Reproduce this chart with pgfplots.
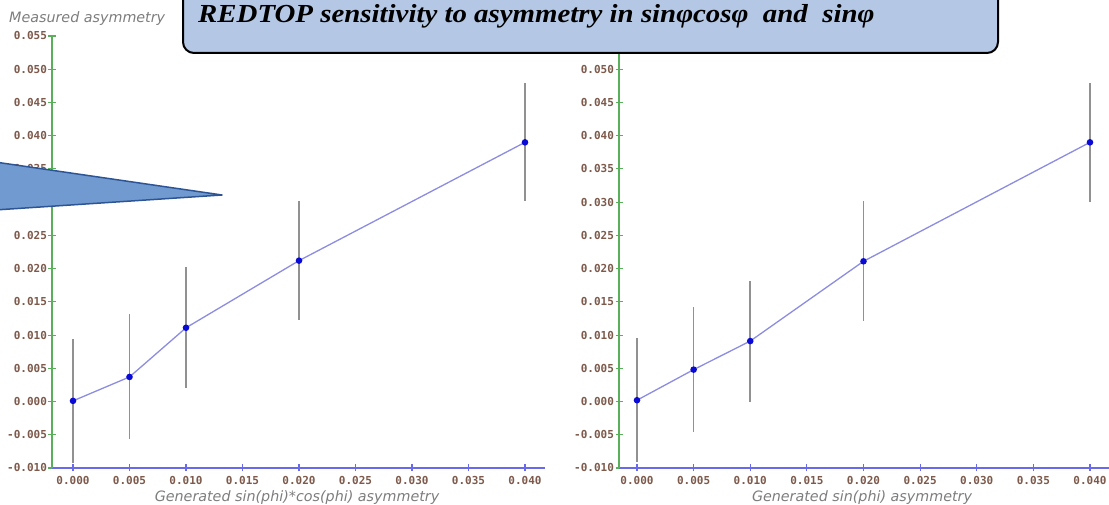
\documentclass[border=0pt]{standalone}
\usepackage{fontspec}
\setmainfont{DejaVu Sans}
\newfontfamily\tickfont{DejaVu Sans Mono}
\newfontfamily\labfont{DejaVu Sans}
\newfontfamily\titlefont{Liberation Serif}
\usepackage{pgfplots}
\pgfplotsset{compat=1.18}
\definecolor{ygreen}{RGB}{90,175,90}
\definecolor{xblue}{RGB}{105,105,235}
\definecolor{tickbrown}{RGB}{125,90,75}
\definecolor{linec}{RGB}{140,140,225}
\definecolor{markblue}{RGB}{10,10,215}
\definecolor{labgray}{RGB}{125,125,125}
\definecolor{errgray}{RGB}{145,145,145}
\definecolor{boxfill}{RGB}{180,199,228}
\definecolor{trifill}{RGB}{112,154,208}
\definecolor{tridraw}{RGB}{45,85,150}
\pgfplotsset{
  myax/.style={
    scale only axis,
    anchor=south west,
    ymin=-0.010, ymax=0.055,
    scaled ticks=false,
    axis x line*=bottom, axis y line*=left,
    x axis line style={draw=xblue, line width=1.1pt, -},
    y axis line style={draw=ygreen, line width=1.1pt, -},
    x tick style={draw=xblue, line width=1.1pt},
    y tick style={draw=ygreen, line width=1.1pt},
    tick align=center,
    major tick length=7pt,
    xtick={0,0.005,0.010,0.015,0.020,0.025,0.030,0.035,0.040},
    xticklabels={0.000,0.005,0.010,0.015,0.020,0.025,0.030,0.035,0.040},
    ytick={-0.010,-0.005,0,0.005,0.010,0.015,0.020,0.025,0.030,0.035,0.040,0.045,0.050,0.055},
    yticklabels={-0.010,-0.005,0.000,0.005,0.010,0.015,0.020,0.025,0.030,0.035,0.040,0.045,0.050,0.055},
    tick label style={font=\tickfont\bfseries\fontsize{11}{12}\selectfont, text=tickbrown},
    xticklabel style={yshift=-1pt},
    yticklabel style={xshift=2pt},
    clip=false,
  },
  mydata/.style={
    color=linec, line width=1.3pt, mark=*, mark size=2.6pt,
    mark options={draw=markblue, fill=markblue},
    error bars/.cd, y dir=both, y explicit,
    error bar style={draw=errgray, line width=1.6pt}, error mark=none,
  },
}
\begin{document}
\begin{tikzpicture}[x=1pt,y=1pt]
\coordinate (L) at (52,37);
\coordinate (R) at (619,37);
% left panel
\begin{axis}[myax, at={(L)}, width=493pt, height=432pt,
  xmin=-0.00186, xmax=0.04177]
\addplot[mydata] coordinates {
  (0.000,0.0001) +- (0,0.0093)
  (0.005,0.0037) +- (0,0.0094)
  (0.010,0.0111) +- (0,0.0091)
  (0.020,0.0212) +- (0,0.0089)
  (0.040,0.0390) +- (0,0.0089)
};
\end{axis}
% right panel
\begin{axis}[myax, at={(R)}, width=490pt, height=432pt,
  xmin=-0.00159, xmax=0.04168]
\addplot[mydata] coordinates {
  (0.000,0.0002) +- (0,0.0093)
  (0.005,0.0048) +- (0,0.0094)
  (0.010,0.0091) +- (0,0.0091)
  (0.020,0.0211) +- (0,0.0090)
  (0.040,0.0390) +- (0,0.0090)
};
\end{axis}
% axis titles
\node[anchor=west, text=labgray, font=\labfont\itshape\fontsize{14.3}{16}\selectfont, inner sep=0pt] at (9,486) {Measured asymmetry};
\node[text=labgray, font=\labfont\itshape\fontsize{14.3}{16}\selectfont, inner sep=0pt] at (297,7) {Generated sin(phi)*cos(phi) asymmetry};
\node[text=labgray, font=\labfont\itshape\fontsize{14.3}{16}\selectfont, inner sep=0pt] at (862,7) {Generated sin(phi) asymmetry};
% callout box
\draw[fill=boxfill, draw=black, line width=2pt, rounded corners=11pt] (183,452) rectangle (998,540);
\node[anchor=base west, inner sep=0pt, font=\titlefont\bfseries\itshape\fontsize{26}{30}\selectfont] at (198,482) {\scalebox{1.11}[1]{REDTOP sensitivity to asymmetry in sinφcosφ\ \ and\ \ sinφ}};
% triangle callout
\draw[fill=trifill, draw=tridraw, line width=1.5pt, line join=round] (-5,343) -- (222,310) -- (-5,295) -- cycle;
\pgfresetboundingbox
\path[use as bounding box] (0,0) rectangle (1109,505);
\end{tikzpicture}
\end{document}
